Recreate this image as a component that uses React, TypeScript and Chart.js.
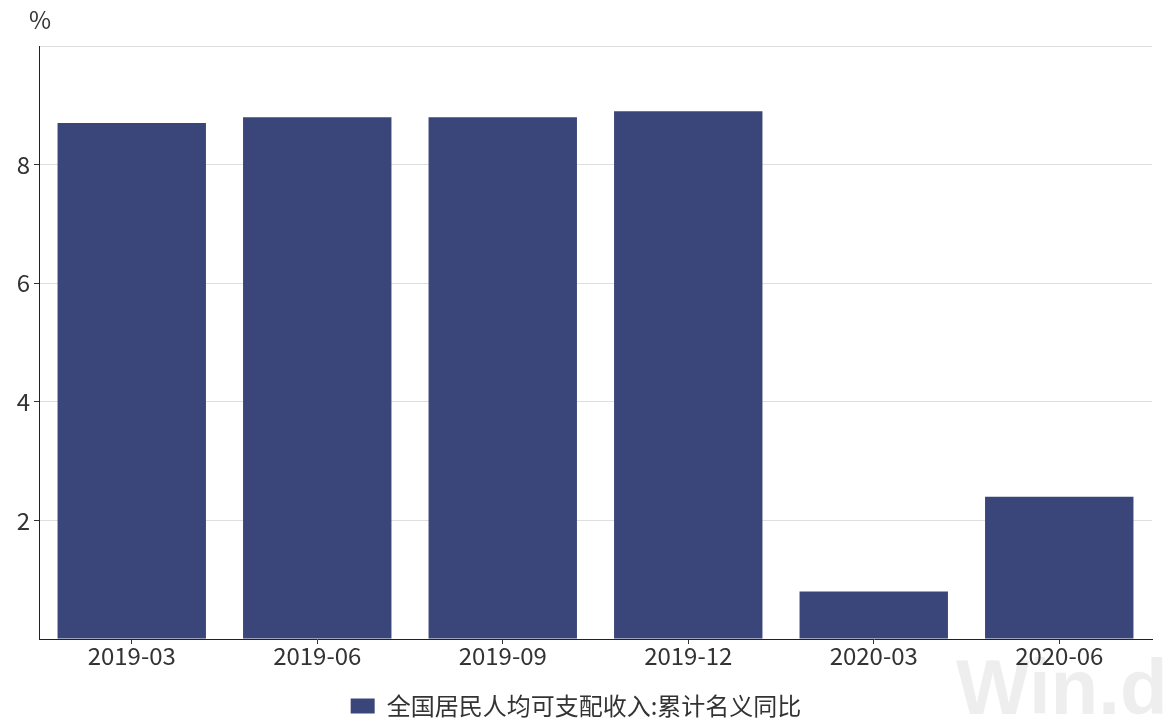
import React, { useEffect, useRef } from "react";
import { Chart, registerables } from "chart.js";

Chart.register(...registerables);

const categories = ["2019-03", "2019-06", "2019-09", "2019-12", "2020-03", "2020-06"];
const seriesName = "全国居民人均可支配收入:累计名义同比";
const seriesValues = [8.7, 8.8, 8.8, 8.9, 0.8, 2.4];
const yTicks = [2, 4, 6, 8];

const FONT = "'Noto Sans CJK SC', 'Noto Sans', sans-serif";

export default function App() {
  const ref = useRef<HTMLCanvasElement | null>(null);
  useEffect(() => {
    if (!ref.current) return;
    const chart = new Chart(ref.current, {
      type: "bar",
      data: {
        labels: categories,
        datasets: [
          {
            label: seriesName,
            data: seriesValues,
            backgroundColor: "#3a4679",
            borderWidth: 0,
            categoryPercentage: 0.8,
            barPercentage: 1.0,
          },
        ],
      },
      options: {
        animation: false,
        responsive: false,
        maintainAspectRatio: false,
        layout: { padding: { top: 46, right: 17, left: 0, bottom: 0 } },
        plugins: {
          tooltip: { enabled: false },
          legend: {
            position: "bottom",
            labels: {
              boxWidth: 24,
              boxHeight: 15,
              padding: 9,
              color: "#333",
              font: { family: FONT, size: 24 },
            },
          },
        },
        scales: {
          x: {
            afterFit: (scale: any) => {
              scale.height = 46;
            },
            grid: {
              display: true,
              offset: false,
              drawOnChartArea: false,
              drawTicks: true,
              tickLength: 5,
              tickColor: "#333",
            },
            border: { display: true, color: "#222", width: 1 },
            ticks: { color: "#333", font: { family: FONT, size: 24 }, padding: -3, maxRotation: 0 },
          },
          y: {
            min: 0,
            max: 10,
            afterBuildTicks: (scale: any) => {
              scale.ticks = [0, ...yTicks, 10].map((v) => ({ value: v }));
            },
            afterFit: (scale: any) => {
              scale.width = 39;
            },
            grid: {
              color: (ctx: any) => (ctx.tick && ctx.tick.value === 0 ? "rgba(0,0,0,0)" : "#dedede"),
              tickColor: (ctx: any) => (ctx.tick && yTicks.includes(ctx.tick.value) ? "#333" : "rgba(0,0,0,0)"),
              tickLength: 5,
            },
            border: { display: true, color: "#222", width: 1 },
            ticks: {
              color: "#333",
              font: { family: FONT, size: 24 },
              padding: 4,
              callback: (v: any) => (yTicks.includes(Number(v)) ? String(v) : ""),
            },
          },
        },
      },
    });
    return () => chart.destroy();
  }, []);

  return (
    <div style={{ position: "fixed", left: 0, top: 0, width: 1169, height: 728, overflow: "hidden", background: "#fff" }}>
      <div
        style={{
          position: "absolute",
          left: 956,
          top: 648,
          fontFamily: "'Liberation Sans', Arial, sans-serif",
          fontWeight: "bold",
          fontSize: 78,
          color: "#eeeeee",
          lineHeight: 1,
          whiteSpace: "nowrap",
        }}
      >
        Win.d
      </div>
      <canvas ref={ref} width={1169} height={728} style={{ position: "absolute", left: 0, top: 0, width: 1169, height: 728 }} />
      <div
        style={{
          position: "absolute",
          left: 29,
          top: 1,
          fontFamily: FONT,
          fontSize: 24,
          color: "#333",
        }}
      >
        %
      </div>
    </div>
  );
}
